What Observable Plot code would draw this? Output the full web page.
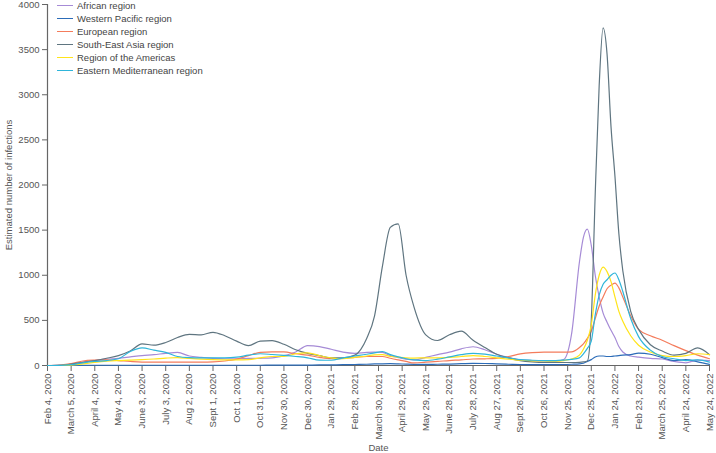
<!DOCTYPE html>
<html>
<head>
<meta charset="utf-8">
<script src="https://cdn.jsdelivr.net/npm/d3@7"></script>
<script src="https://cdn.jsdelivr.net/npm/@observablehq/plot@0.6"></script>
<style>
  html, body { margin: 0; padding: 0; background: #fff; }
  #wrap { position: relative; width: 716px; height: 453px; font-family: "Liberation Sans", Arial, sans-serif; }
  #legend { position: absolute; left: 57px; top: -1px; font-size: 9.5px; color: #444; }
  #legend .row { display: flex; align-items: center; height: 13px; }
  #legend .sw { display: inline-block; width: 16px; height: 1.5px; margin-right: 4px; }
</style>
</head>
<body>
<div id="wrap"><div id="legend"></div></div>
<script>
const regions = ["African region", "Western Pacific region", "European region", "South-East Asia region", "Region of the Americas", "Eastern Mediterranean region"];
const colors = ["#a68bd6", "#2c6cb8", "#f47c5c", "#5f7580", "#ffe41a", "#2fb5da"];

const dates = [
  "2020-02-04","2020-02-19","2020-03-05","2020-03-20","2020-04-04","2020-04-19","2020-05-04","2020-05-19","2020-06-03","2020-06-18",
  "2020-07-03","2020-07-18","2020-08-02","2020-08-17","2020-09-01","2020-09-16","2020-10-01","2020-10-16","2020-10-31","2020-11-15",
  "2020-11-30","2020-12-15","2020-12-30","2021-01-14","2021-01-29","2021-02-13","2021-02-28",
  "2021-03-15","2021-03-25","2021-04-04","2021-04-14","2021-04-24","2021-05-04","2021-05-14",
  "2021-05-29","2021-06-13","2021-06-28","2021-07-13","2021-07-28","2021-08-12","2021-08-27","2021-09-11","2021-09-26","2021-10-11","2021-10-26","2021-11-10",
  "2021-11-20","2021-11-30","2021-12-10",
  "2021-12-15","2021-12-20","2021-12-25","2021-12-30","2022-01-04","2022-01-09","2022-01-14","2022-01-19","2022-01-24","2022-01-29","2022-02-03",
  "2022-02-13","2022-02-23",
  "2022-03-10","2022-03-25","2022-04-09","2022-04-24","2022-05-09","2022-05-24"
];

const african = [
  0,2,15,35,55,70,80,95,110,120, 135,145,105,90,78,75,75,78,80,85, 110,150,220,210,180,148,135,
  145,148,145,110,88,70,62,
  90,120,148,185,208,175,125,90,63,55,50,48,
  66,350,1150,
  1420,1510,1330,1000,760,580,480,390,310,210,150,
  105,92,
  78,72,45,30,60,55
];
const westernPacific = [
  0,0,1,2,3,3,3,3,3,3, 3,3,3,3,3,3,3,3,3,4, 4,5,5,6,7,9,11,
  14,17,19,20,18,15,13,
  13,14,16,20,24,22,18,14,11,10,10,10,
  11,14,18,
  25,45,65,95,105,105,100,100,105,110,115,
  120,137,
  125,88,55,65,40,12
];
const european = [
  0,5,20,50,60,63,55,45,38,37, 37,37,37,37,40,50,70,110,145,150, 150,130,115,90,75,80,90,
  100,100,100,80,62,45,28,
  37,45,55,62,72,74,80,100,128,142,148,148,
  148,150,200,
  240,300,380,520,660,760,850,890,912,860,760,
  550,400,
  330,280,220,165,115,75
];
const southEastAsia = [
  0,2,15,35,55,80,110,160,240,225, 255,310,345,340,368,330,270,220,270,275, 235,175,135,110,85,85,115,
  300,550,1100,1530,1570,1000,650,
  340,277,340,380,280,200,125,85,55,40,33,33,
  33,33,35,
  40,50,500,1900,3100,3740,3450,2650,2100,1460,1050,
  600,400,
  230,160,115,135,195,120
];
const americas = [
  0,0,5,18,35,48,55,60,65,72, 82,88,78,70,65,63,63,65,85,100, 100,130,140,110,85,75,90,
  105,118,120,100,92,85,82,
  85,85,90,100,110,100,85,70,58,52,50,48,
  55,72,115,
  180,280,450,780,1000,1090,1040,930,760,600,490,
  330,225,
  150,110,100,110,130,120
];
const easternMed = [
  0,2,10,30,45,55,75,155,195,170, 145,100,88,85,85,85,92,115,130,122, 112,100,85,60,58,85,105,
  125,140,155,120,95,75,62,
  55,70,95,120,135,125,105,85,65,58,55,55,
  60,68,85,
  130,190,270,560,780,900,950,1000,1025,950,820,
  520,320,
  170,100,75,55,62,37
];

const tickDates = ["2020-02-04","2020-03-05","2020-04-04","2020-05-04","2020-06-03","2020-07-03","2020-08-02","2020-09-01","2020-10-01","2020-10-31","2020-11-30","2020-12-30","2021-01-29","2021-02-28","2021-03-30","2021-04-29","2021-05-29","2021-06-28","2021-07-28","2021-08-27","2021-09-26","2021-10-26","2021-11-25","2021-12-25","2022-01-24","2022-02-23","2022-03-25","2022-04-24","2022-05-24"];
const tickLabels = ["Feb 4, 2020","March 5, 2020","April 4, 2020","May 4, 2020","June 3, 2020","July 3, 2020","Aug 2, 2020","Sept 1, 2020","Oct 1, 2020","Oct 31, 2020","Nov 30, 2020","Dec 30, 2020","Jan 29, 2021","Feb 28, 2021","March 30, 2021","April 29, 2021","May 29, 2021","June 28, 2021","July 28, 2021","Aug 27, 2021","Sept 26, 2021","Oct 26, 2021","Nov 25, 2021","Dec 25, 2021","Jan 24, 2022","Feb 23, 2022","March 25, 2022","April 24, 2022","May 24, 2022"];
const yTicks = [0, 500, 1000, 1500, 2000, 2500, 3000, 3500, 4000];

const seriesValues = [african, westernPacific, european, southEastAsia, americas, easternMed];
const rows = [];
regions.forEach((r, k) => {
  seriesValues[k].forEach((v, i) => rows.push({region: r, date: new Date(dates[i] + "T00:00:00Z"), value: v}));
});

const tickDateObjs = tickDates.map(d => new Date(d + "T00:00:00Z"));
const labelByTime = new Map(tickDateObjs.map((d, i) => [+d, tickLabels[i]]));
const xStart = tickDateObjs[0], xEnd = tickDateObjs[tickDateObjs.length - 1];

const chart = Plot.plot({
  width: 716,
  height: 453,
  marginLeft: 47,
  marginRight: 7,
  marginTop: 4,
  marginBottom: 88,
  style: {fontFamily: "'Liberation Sans', Arial, sans-serif", fontSize: "9.5px", color: "#555", background: "#fff"},
  x: {type: "utc", domain: [xStart, xEnd]},
  y: {domain: [0, 4000]},
  color: {domain: regions, range: colors},
  marks: [
    Plot.axisY({ticks: yTicks, tickFormat: d => String(d), tickSize: 5, tickPadding: 3, stroke: "#666", label: "Estimated number of infections", labelAnchor: "center", labelArrow: false, labelOffset: 42}),
    Plot.axisX({ticks: tickDateObjs, tickFormat: d => labelByTime.get(+d), tickRotate: -90, tickSize: 6, tickPadding: 2, stroke: "#666", label: "Date", labelAnchor: "center", labelArrow: false, labelOffset: 85}),
    Plot.ruleX([xStart], {stroke: "#666", strokeWidth: 1.2}),
    Plot.ruleY([0], {stroke: "#666", strokeWidth: 1.2}),
    Plot.line(rows, {x: "date", y: "value", z: "region", stroke: "region", strokeWidth: 1.2, curve: "monotone-x"})
  ]
});
document.getElementById("wrap").prepend(chart);

const legend = document.getElementById("legend");
regions.forEach((r, k) => {
  const row = document.createElement("div");
  row.className = "row";
  const sw = document.createElement("span");
  sw.className = "sw";
  sw.style.background = colors[k];
  const t = document.createElement("span");
  t.textContent = r;
  row.append(sw, t);
  legend.append(row);
});
</script>
</body>
</html>
